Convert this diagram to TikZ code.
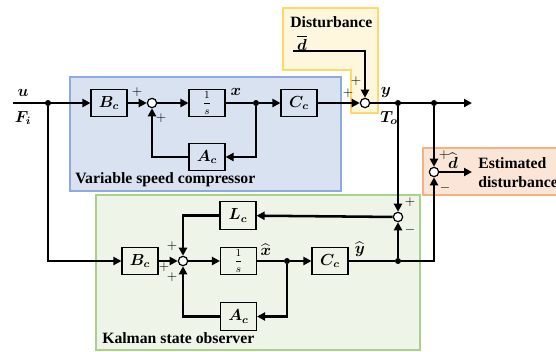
\documentclass[tikz,border=0pt]{standalone}
\usepackage{amsmath,amssymb}
\usepackage{fontspec}
\setmainfont{Liberation Serif}
\usepackage{tikz}
\usetikzlibrary{arrows.meta}
\definecolor{cmpfill}{HTML}{D9E2F0}
\definecolor{cmpline}{HTML}{8FAADC}
\definecolor{dstfill}{HTML}{FFF6DE}
\definecolor{dstline}{HTML}{FFD966}
\definecolor{estfill}{HTML}{FBE5D6}
\definecolor{estline}{HTML}{F4B183}
\definecolor{obsfill}{HTML}{EEF4E7}
\definecolor{obsline}{HTML}{A9D18E}
\newcommand{\bsym}[1]{\boldsymbol{#1}}
\newcommand{\integ}{\footnotesize$\displaystyle\frac{1}{s}$}

\begin{document}
\begin{tikzpicture}[x=0.75pt, y=-0.75pt, font=\fontsize{12}{14}\selectfont,
		sig/.style={line width=1.9pt, -{Triangle[length=6pt,width=6pt]}},
		wire/.style={line width=1.9pt},
		blk/.style={draw, line width=0.8pt, minimum width=27pt, minimum height=20.5pt,
			inner sep=0pt, font=\fontsize{12}{14}\selectfont},
		sumpt/.style={draw, circle, line width=0.9pt, fill=white, inner sep=0pt, minimum size=7pt},
		dot/.style={circle, fill, inner sep=0pt, minimum size=4.5pt},
		sgn/.style={font=\fontsize{10}{11}\selectfont, inner sep=0pt},
		lbl/.style={font=\fontsize{11.8}{14.5}\selectfont\bfseries, anchor=west, inner sep=0pt}]
		\useasboundingbox (0,0) rectangle (556,351);
		% shaded panels
		\draw[draw=cmpline, fill=cmpfill, line width=1pt] (70,77) rectangle (341,191);
		\draw[draw=dstline, fill=dstfill, line width=1pt]
		(283,8) -- (378,8) -- (378,113) -- (351,113) -- (351,70) -- (283,70) -- cycle;
		\draw[draw=estline, fill=estfill, line width=1pt] (423,148) rectangle (562,195);
		\draw[draw=obsline, fill=obsfill, line width=1pt] (96,195) rectangle (420,350);
		\node[lbl] (tDist) at (290,22) {Disturbance};
		\node[lbl] (tComp) at (75,180) {Variable speed compressor};
		\node[lbl] (tObs) at (102,338) {Kalman state observer};
		\node[lbl, align=left] (tEst) at (478,172.5) {Estimated\\disturbance};
		% plant: variable speed compressor
		\coordinate (uIn) at (13,103);
		\node[dot] (ua) at (48,103) {};
		\node[blk] (Bcp) at (109,103) {$\bsym{B_c}$};
		\node[sumpt] (sp) at (152,103) {};
		\node[blk] (Ip) at (207,103) {\integ};
		\node[dot] (xp) at (256,103) {};
		\node[blk] (Ccp) at (299,103) {$\bsym{C_c}$};
		\node[blk] (Acp) at (207,157) {$\bsym{A_c}$};
		% disturbance and outputs
		\coordinate (dIn) at (293,51);
		\node[sumpt] (sd) at (365,103) {};
		\node[dot] (ya) at (398,103) {};
		\node[dot] (yb) at (434,103) {};
		\coordinate (yOut) at (472,103);
		\node[sumpt] (se) at (434,172) {};
		\coordinate (eOut) at (472,172);
		% observer
		\node[blk] (Bco) at (140,261) {$\bsym{B_c}$};
		\node[sumpt] (so) at (183,261) {};
		\node[blk] (Io) at (238.5,261) {\integ};
		\node[dot] (xo) at (287,261) {};
		\node[blk] (Cco) at (330,261) {$\bsym{C_c}$};
		\node[dot] (yo) at (398,261) {};
		\node[blk] (Lco) at (238,215.5) {$\bsym{L_c}$};
		\node[blk] (Aco) at (238.5,316.5) {$\bsym{A_c}$};
		\node[sumpt] (sy) at (398,217) {};
		% connectors, plant
		\draw[sig] (uIn) -- (Bcp);
		\draw[sig] (Bcp) -- (sp);
		\draw[sig] (sp) -- (Ip);
		\draw[wire] (Ip) -- (xp);
		\draw[sig] (xp) -- (Ccp);
		\draw[sig] (xp) |- (Acp);
		\draw[sig] (Acp) -| (sp);
		\draw[sig] (Ccp) -- (sd);
		\draw[sig] (dIn) -| (sd);
		\draw[sig] (sd) -- (yOut);
		\draw[sig] (yb) -- (se);
		\draw[sig] (se) -- (eOut);
		\draw[sig] (ya) -- (sy);
		% connectors, observer
		\draw[sig] (ua) |- (Bco);
		\draw[sig] (Bco) -- (so);
		\draw[sig] (so) -- (Io);
		\draw[wire] (Io) -- (xo);
		\draw[sig] (xo) -- (Cco);
		\draw[sig] (xo) |- (Aco);
		\draw[sig] (Aco) -| (so);
		\draw[wire] (Cco) -- (yo);
		\draw[sig] (yo) -- (sy);
		\draw[sig] (yo) -| (se);
		\draw[sig] (sy) -- (Lco);
		\draw[sig] (Lco) -| (so);
		% signal labels
		\node[inner sep=1pt] (lu) at (23,93) {$\bsym{u}$};
		\node[inner sep=1pt] (lF) at (23,118) {$\bsym{F_i}$};
		\node[inner sep=1pt] (lx) at (236,92) {$\bsym{x}$};
		\node[inner sep=1pt] (ly) at (386,92) {$\bsym{y}$};
		\node[inner sep=1pt] (lT) at (389,118) {$\bsym{T_o}$};
		\node[inner sep=1pt] (ld) at (302,43) {$\overline{\bsym{d}}$};
		\node[inner sep=1pt] (ldh) at (453,161) {$\widehat{\bsym{d}}$};
		\node[inner sep=1pt] (lxh) at (266,250) {$\widehat{\bsym{x}}$};
		\node[inner sep=1pt] (lyh) at (360,249) {$\widehat{\bsym{y}}$};
		% signs
		\node[sgn] (p1) at (137,92) {$+$};
		\node[sgn] (p2) at (161,118) {$+$};
		\node[sgn] (p3) at (356,81) {$+$};
		\node[sgn] (p4) at (348,93) {$+$};
		\node[sgn] (p5) at (444,155) {$+$};
		\node[sgn] (m1) at (445,188) {$-$};
		\node[sgn] (p6) at (410,202) {$+$};
		\node[sgn] (m2) at (410,230) {$-$};
		\node[sgn] (p7) at (172,246) {$+$};
		\node[sgn] (p8) at (164,267) {$+$};
		\node[sgn] (p9) at (172,277) {$+$};
	\end{tikzpicture}
\end{document}
